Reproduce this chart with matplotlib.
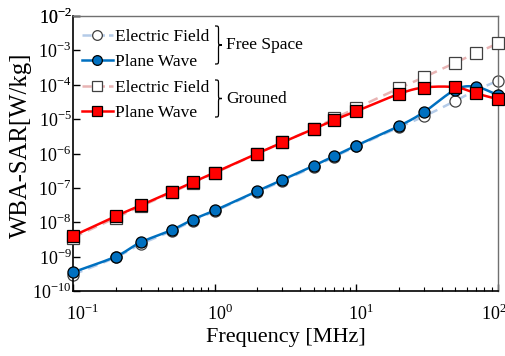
import numpy as np
import matplotlib
matplotlib.use("Agg")
import matplotlib.pyplot as plt
import matplotlib.transforms as mtransforms
from matplotlib.lines import Line2D
from matplotlib.path import Path
from matplotlib.patches import PathPatch

plt.rcParams['font.family'] = ['Liberation Serif', 'DejaVu Serif']
plt.rcParams['mathtext.fontset'] = 'custom'
plt.rcParams['mathtext.rm'] = 'Liberation Serif'

freq = [0.1, 0.2, 0.3, 0.5, 0.7, 1, 2, 3, 5, 7, 10, 20, 30, 50, 70, 100]
ef_free = [3.0e-10, 0.95e-9, 2.3e-9, 5.6e-9, 1.1e-8, 2.1e-8, 7.6e-8, 1.6e-7,
           4.1e-7, 8.0e-7, 1.6e-6, 5.8e-6, 1.2e-5, 3.4e-5, 7.0e-5, 1.3e-4]
pw_free = [3.5e-10, 1.0e-9, 2.6e-9, 6.0e-9, 1.2e-8, 2.2e-8, 8.1e-8, 1.7e-7,
           4.4e-7, 8.5e-7, 1.7e-6, 6.3e-6, 1.6e-5, 7.2e-5, 8.7e-5, 5.0e-5]
ef_gnd = [3.6e-9, 1.35e-8, 2.9e-8, 7.4e-8, 1.4e-7, 2.7e-7, 0.98e-6, 2.1e-6,
          5.3e-6, 1.05e-5, 2.1e-5, 7.9e-5, 1.65e-4, 4.4e-4, 8.3e-4, 1.6e-3]
pw_gnd = [4.0e-9, 1.5e-8, 3.1e-8, 7.8e-8, 1.45e-7, 2.8e-7, 1.0e-6, 2.1e-6,
          5.2e-6, 9.5e-6, 1.7e-5, 5.4e-5, 8.3e-5, 8.5e-5, 5.6e-5, 3.8e-5]

xticks = [0.1, 1, 10, 100]
xticklabels = ['10$^{\\mathregular{-1}}$', '10$^{\\mathregular{0}}$',
               '10$^{\\mathregular{1}}$', '10$^{\\mathregular{2}}$']
yticks = [10.0 ** e for e in range(-10, -1)]
yticklabels = ['10$^{\\mathregular{%d}}$' % e for e in range(-10, -1)]

W, H = 506, 356
fig = plt.figure(figsize=(W / 100, H / 100), dpi=100)
L, R, T, B = 73, 498, 16, 291
ax = fig.add_axes([L / W, 1 - B / H, (R - L) / W, (B - T) / H])


def smooth(x, y, n=20):
    # Catmull-Rom spline in log-log space (line rendering only)
    lx, ly = np.log10(x), np.log10(y)
    px = np.concatenate([[2 * lx[0] - lx[1]], lx, [2 * lx[-1] - lx[-2]]])
    py = np.concatenate([[2 * ly[0] - ly[1]], ly, [2 * ly[-1] - ly[-2]]])
    ox, oy = [], []
    t = np.linspace(0, 1, n, endpoint=False)
    for i in range(1, len(px) - 2):
        for p, o in ((px, ox), (py, oy)):
            p0, p1, p2, p3 = p[i - 1], p[i], p[i + 1], p[i + 2]
            v = 0.5 * ((2 * p1) + (-p0 + p2) * t + (2 * p0 - 5 * p1 + 4 * p2 - p3) * t ** 2
                       + (-p0 + 3 * p1 - 3 * p2 + p3) * t ** 3)
            o.extend(v)
    ox.append(lx[-1]); oy.append(ly[-1])
    return 10 ** np.array(ox), 10 ** np.array(oy)


blue = '#0070C0'
lblue = '#B4CBE8'
red = '#FF0000'
lred = '#E8B4B4'
ms = 8

series = [
    (ef_free, lblue, '--', 'o', 'white', '#404040', 2),
    (ef_gnd, lred, '--', 's', 'white', '#404040', 3),
    (pw_free, blue, '-', 'o', blue, 'black', 4),
    (pw_gnd, red, '-', 's', red, 'black', 5),
]
for vals, lc, ls, mk, mfc, mec, z in series:
    sx, sy = smooth(freq, vals)
    ax.plot(sx, sy, color=lc, ls=ls, lw=1.8, zorder=z, clip_on=False,
            dashes=(4, 2.5) if ls == '--' else (None, None))
    ax.plot(freq, vals, ls='none', marker=mk, ms=ms, mfc=mfc, mec=mec, mew=0.9,
            zorder=z + 0.5, clip_on=False)

ax.set_xscale('log')
ax.set_yscale('log')
ax.set_xlim(0.1, 100)
ax.set_ylim(1e-10, 1e-2)
ax.set_xticks(xticks)
ax.set_xticklabels(xticklabels)
ax.set_yticks(yticks + [1e-2])
ax.set_yticklabels(yticklabels + ['10$^{\\mathregular{-2}}$'])
ax.tick_params(which='both', direction='in', top=False, right=False)
ax.tick_params(which='major', length=5, width=1, labelsize=13)
ax.tick_params(which='minor', length=3, width=0.8)
ax.tick_params(axis='x', which='major', pad=9)
ax.tick_params(axis='y', which='major', pad=1)
for s in ('left', 'bottom'):
    ax.spines[s].set_color('black')
    ax.spines[s].set_linewidth(1.2)
for s in ('top', 'right'):
    ax.spines[s].set_color('#707070')
    ax.spines[s].set_linewidth(1.0)

# x tick labels: "10" centered on the tick, last one pulled inside
offsets = [-7, -8, -8, -17]
for lab, dx in zip(ax.get_xticklabels(), offsets):
    lab.set_ha('left')
    lab.set_transform(lab.get_transform() +
                      mtransforms.ScaledTranslation(dx / 100, 0, fig.dpi_scale_trans))

ax.set_xlabel('Frequency [MHz]', fontsize=16, labelpad=3)
ax.set_ylabel('WBA-SAR[W/kg]', fontsize=17.8)
ax.yaxis.set_label_coords(-0.097, 0.529)

handles = [
    Line2D([], [], color=lblue, ls='--', lw=1.8, marker='o', ms=7, mfc='white', mec='#404040', mew=0.9),
    Line2D([], [], color=blue, ls='-', lw=1.8, marker='o', ms=7, mfc=blue, mec='black', mew=0.9),
    Line2D([], [], color=lred, ls='--', lw=1.8, marker='s', ms=7, mfc='white', mec='#404040', mew=0.9),
    Line2D([], [], color=red, ls='-', lw=1.8, marker='s', ms=7, mfc=red, mec='black', mew=0.9),
]
labels = ['Electric Field', 'Plane Wave', 'Electric Field', 'Plane Wave']
ax.legend(handles, labels, loc='upper left', bbox_to_anchor=(0.021, 0.953),
          frameon=False, fontsize=12.5, handlelength=1.79, handletextpad=0.12,
          labelspacing=0.53, borderaxespad=0.0, borderpad=0.0)


def px2fig(x, y):
    return x / W, 1 - y / H


def brace(x0, ytop, ybot, w):
    xm = x0 + w / 2
    ymid = (ytop + ybot) / 2
    r = 4
    pts = [(x0, ytop), (xm, ytop), (xm, ytop), (xm, ytop + r),
           (xm, ymid - r), (xm, ymid), (xm, ymid), (x0 + w, ymid),
           (xm, ymid), (xm, ymid), (xm, ymid + r),
           (xm, ybot - r), (xm, ybot), (xm, ybot), (x0, ybot)]
    codes = [Path.MOVETO, Path.CURVE4, Path.CURVE4, Path.CURVE4,
             Path.LINETO, Path.CURVE4, Path.CURVE4, Path.CURVE4,
             Path.CURVE4, Path.CURVE4, Path.CURVE4,
             Path.LINETO, Path.CURVE4, Path.CURVE4, Path.CURVE4]
    path = Path([px2fig(*p) for p in pts], codes)
    fig.add_artist(PathPatch(path, fill=False, lw=0.9, ec='black',
                             transform=fig.transFigure))


brace(215, 26, 64, 7)
brace(215, 80, 117, 7)
fig.text(*px2fig(226, 45), 'Free Space', fontsize=12.5, va='center', ha='left')
fig.text(*px2fig(226, 99), 'Grouned', fontsize=12.5, va='center', ha='left')

fig.savefig('out.png', dpi=100)
